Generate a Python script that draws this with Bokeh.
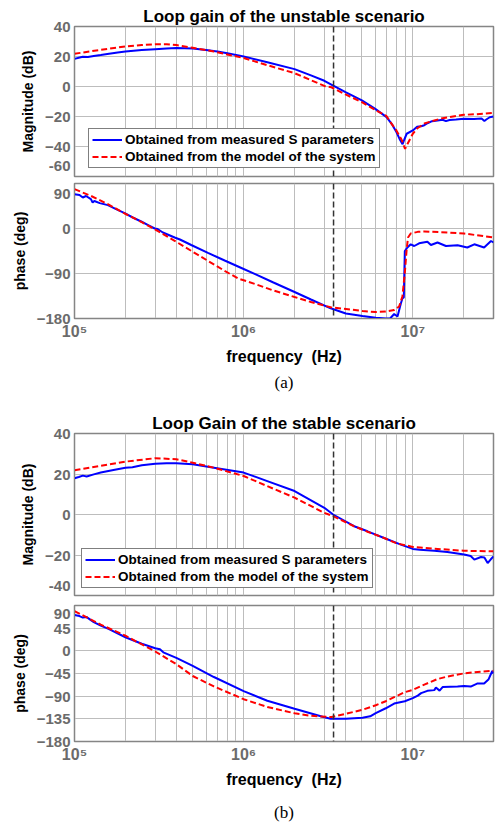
from bokeh.plotting import figure
from bokeh.models import (FixedTicker, Span, Legend, LegendItem, Title, Range1d,
                          CustomJSTickFormatter)
from bokeh.layouts import column
from bokeh.embed import file_html
from bokeh.resources import INLINE

# ---------------- data ----------------
crossover_freq = 3.4e6

# (a) unstable scenario - magnitude
f_a_mag_meas = [1.0e5, 1.06e5, 1.12e5, 1.2e5, 1.3e5, 1.43e5, 1.6e5, 1.8e5, 2.0e5, 2.5e5, 3.0e5,
                3.5e5, 4.0e5, 5.0e5, 6.0e5, 7.0e5, 8.0e5, 1.0e6, 1.38e6, 2.0e6, 2.5e6, 3.0e6,
                3.3e6, 4.0e6, 5.0e6, 6.0e6, 7.0e6, 7.5e6, 8.0e6, 8.4e6, 8.7e6, 8.9e6, 9.2e6,
                1.0e7, 1.06e7, 1.12e7, 1.17e7, 1.22e7, 1.3e7, 1.4e7, 1.5e7, 1.57e7, 1.65e7,
                1.8e7, 2.0e7, 2.3e7, 2.55e7, 2.65e7, 2.72e7, 2.85e7, 3.0e7]
mag_a_meas = [18.4, 19.2, 19.8, 19.6, 20.3, 21.0, 21.9, 22.7, 23.3, 24.3, 24.9,
              25.3, 25.6, 25.3, 24.3, 23.3, 22.2, 20.0, 16.2, 11.6, 7.4, 3.8,
              1.3, -3.8, -9.3, -14.9, -20.4, -24.9, -30.4, -35.5, -38.5, -35.5, -31.5,
              -29.3, -26.9, -26.5, -25.8, -24.5, -23.1, -22.6, -22.2, -23.1, -22.3,
              -22.0, -21.5, -21.7, -21.4, -23.0, -22.0, -20.5, -20.0]
f_a_mag_model = [1.0e5, 1.43e5, 2.0e5, 2.5e5, 3.0e5, 3.5e5, 4.0e5, 5.0e5, 6.67e5, 1.0e6, 1.38e6,
                 2.0e6, 3.0e6, 3.3e6, 4.0e6, 5.0e6, 6.0e6, 7.0e6, 7.5e6, 8.0e6, 8.6e6, 9.0e6,
                 9.2e6, 1.0e7, 1.06e7, 1.17e7, 1.3e7, 1.5e7, 2.0e7, 2.6e7, 3.0e7]
mag_a_model = [21.8, 24.5, 26.7, 27.7, 28.2, 28.2, 27.6, 25.8, 23.3, 19.0, 14.2,
               8.9, 0.4, -0.5, -5.3, -10.4, -15.6, -19.8, -24.9, -29.3, -35.6, -41.6,
               -39.4, -31.5, -28.0, -24.7, -23.1, -21.1, -18.9, -18.2, -17.6]

# (a) unstable scenario - phase
f_a_ph_meas = [1.0e5, 1.07e5, 1.12e5, 1.17e5, 1.25e5, 1.28e5, 1.31e5, 1.41e5, 1.575e5, 1.76e5,
               1.98e5, 2.21e5, 2.48e5, 2.78e5, 2.98e5, 3.1e5, 3.33e5, 3.91e5, 4.2e5, 4.9e5,
               6.15e5, 7.72e5, 9.7e5, 1.17e6, 1.5e6, 2.0e6, 2.5e6, 3.27e6, 4.02e6, 5.04e6,
               6.04e6, 6.92e6, 7.34e6, 7.76e6, 8.12e6, 8.5e6, 8.68e6, 8.85e6, 8.97e6, 9.29e6,
               9.72e6, 1.02e7, 1.09e7, 1.22e7, 1.28e7, 1.4e7, 1.57e7, 1.84e7, 2.1e7, 2.31e7,
               2.64e7, 2.9e7, 3.0e7]
ph_a_meas = [68.7, 67.0, 62.0, 65.0, 58.7, 52.0, 55.0, 50.7, 46.7, 38.7,
             30.7, 22.0, 14.0, 5.3, 0.0, -1.0, -8.0, -18.0, -22.0, -33.0,
             -48.7, -64.0, -79.0, -91.3, -108.0, -127.0, -142.0, -159.6, -170.0, -175.0,
             -178.5, -180.0, -180.0, -171.0, -176.0, -150.0, -140.0, -138.0, -45.0, -38.0,
             -31.6, -35.0, -29.6, -26.3, -33.0, -28.0, -35.0, -33.7, -38.0, -31.6,
             -38.0, -25.0, -28.0]
f_a_ph_model = [1.0e5, 1.25e5, 1.575e5, 1.98e5, 2.48e5, 2.98e5, 3.91e5, 4.9e5, 6.15e5, 7.72e5,
                9.27e5, 1.17e6, 1.5e6, 2.0e6, 2.5e6, 3.27e6, 4.02e6, 5.04e6, 6.04e6, 6.92e6,
                7.76e6, 8.3e6, 8.68e6, 8.97e6, 9.21e6, 9.37e6, 9.72e6, 1.07e7, 1.17e7, 1.6e7,
                2.01e7, 3.0e7]
ph_a_model = [78.7, 65.3, 48.7, 30.0, 13.3, -1.3, -24.7, -44.7, -64.7, -84.7,
              -100.0, -111.0, -124.0, -137.0, -147.0, -157.6, -161.0, -165.0, -167.0, -166.0,
              -163.0, -156.0, -136.0, -89.0, -40.0, -18.0, -10.0, -6.7, -6.0, -8.0,
              -10.0, -18.0]

# (b) stable scenario - magnitude
f_b_mag_meas = [1.0e5, 1.06e5, 1.12e5, 1.18e5, 1.3e5, 1.43e5, 1.7e5, 2.0e5, 2.2e5, 2.5e5, 3.0e5,
                3.5e5, 4.0e5, 5.0e5, 6.67e5, 1.0e6, 1.38e6, 2.0e6, 3.0e6, 3.38e6, 4.5e6, 5.4e6,
                6.77e6, 8.5e6, 1.0e7, 1.1e7, 1.34e7, 1.6e7, 2.01e7, 2.2e7, 2.31e7, 2.53e7,
                2.65e7, 2.77e7, 2.9e7, 3.0e7]
mag_b_meas = [17.9, 18.5, 19.2, 18.8, 19.8, 20.7, 22.0, 23.1, 23.3, 24.3, 25.1,
              25.3, 25.3, 24.8, 23.1, 20.7, 16.5, 11.6, 3.3, 0.0, -5.8, -8.3,
              -11.6, -14.9, -17.0, -17.4, -17.9, -18.5, -19.8, -20.5, -22.3, -21.0,
              -21.2, -24.0, -22.0, -20.7]
f_b_mag_model = [1.0e5, 1.43e5, 2.0e5, 3.0e5, 4.0e5, 5.0e5, 6.67e5, 1.0e6, 1.38e6, 2.0e6, 3.0e6,
                 3.38e6, 4.5e6, 5.4e6, 6.77e6, 8.0e6, 1.0e7, 1.34e7, 2.0e7, 3.0e7]
mag_b_model = [21.8, 24.0, 26.1, 27.8, 27.3, 25.6, 23.1, 19.0, 14.0, 8.3, 0.8,
               -0.8, -5.8, -8.5, -11.6, -14.2, -16.0, -16.9, -17.9, -18.2]

# (b) stable scenario - phase
f_b_ph_meas = [1.0e5, 1.07e5, 1.12e5, 1.18e5, 1.25e5, 1.3e5, 1.43e5, 1.6e5, 2.0e5, 2.5e5, 3.0e5,
               3.2e5, 3.35e5, 4.0e5, 5.0e5, 6.67e5, 1.0e6, 1.38e6, 2.0e6, 3.0e6, 3.27e6, 4.02e6,
               5.04e6, 5.6e6, 6.04e6, 6.92e6, 7.76e6, 8.97e6, 1.0e7, 1.07e7, 1.12e7, 1.22e7,
               1.34e7, 1.37e7, 1.44e7, 1.5e7, 1.84e7, 2.01e7, 2.2e7, 2.4e7, 2.64e7, 2.8e7,
               2.95e7, 3.0e7]
ph_b_meas = [71.0, 69.0, 66.0, 67.0, 61.0, 57.0, 50.0, 43.0, 27.0, 14.0, 5.0,
             3.0, -3.0, -14.0, -30.0, -52.0, -80.0, -99.0, -115.0, -132.0, -134.8, -134.8,
             -133.0, -130.0, -123.5, -114.0, -104.6, -100.0, -94.0, -89.0, -84.0, -79.4,
             -78.0, -73.0, -79.0, -72.0, -71.0, -70.0, -71.0, -65.0, -65.0, -57.0,
             -40.0, -45.0]
f_b_ph_model = [1.0e5, 1.43e5, 2.0e5, 3.0e5, 4.0e5, 5.0e5, 6.67e5, 1.0e6, 1.38e6, 2.0e6, 2.5e6,
                3.3e6, 4.02e6, 5.04e6, 6.04e6, 6.92e6, 7.76e6, 8.97e6, 1.0e7, 1.17e7, 1.4e7,
                1.6e7, 2.01e7, 2.6e7, 3.0e7]
ph_b_model = [79.0, 52.0, 30.0, -1.3, -26.5, -50.0, -70.6, -96.0, -111.5, -124.0, -129.0,
              -131.5, -125.0, -117.0, -108.0, -100.0, -92.0, -82.0, -77.5, -67.0, -56.0,
              -51.0, -44.7, -41.0, -39.7]

x_major = [1e5, 1e6, 1e7]
x_minor = [2e5, 3e5, 4e5, 5e5, 6e5, 7e5, 8e5, 9e5, 2e6, 3e6, 4e6, 5e6, 6e6, 7e6, 8e6, 9e6,
           2e7, 3e7]
mag_a_ticks = [-60, -40, -20, 0, 20, 40]
ph_a_ticks = [-180, -90, 0, 90]
mag_b_ticks = [-40, -20, 0, 20, 40]
ph_b_ticks = [-180, -135, -90, -45, 0, 45, 90]

legend_labels = ["Obtained from measured S parameters", "Obtained from the model of the system"]
x_label = "frequency\u00a0\u00a0(Hz)"

# ---------------- styling helpers ----------------
FONT = "Liberation Sans"
GRID = "#bdbdbd"
FRAME = "#858585"
TICKC = "#6b6b6b"
BLUE = "#0000ff"
RED = "#ff0000"
TICK_FS = "15px"


def make_fig(height, top, bottom, yticks, yr, ylabel, title=None, show_x=False,
             edge_low=False, edge_high=False):
    p = figure(width=498, height=height, x_axis_type="log",
               x_range=Range1d(1e5, 3e7), y_range=Range1d(*yr),
               output_backend="svg", toolbar_location=None,
               min_border_left=74, min_border_right=5,
               min_border_top=top, min_border_bottom=bottom)
    p.background_fill_color = "white"
    p.border_fill_color = "white"
    p.outline_line_color = FRAME
    p.outline_line_width = 1.5

    xt = FixedTicker(ticks=x_major, minor_ticks=x_minor)
    p.xaxis.ticker = xt
    p.xgrid.ticker = xt
    p.xgrid.grid_line_color = GRID
    p.xgrid.minor_grid_line_color = GRID
    p.xgrid.grid_line_width = 1
    p.xgrid.minor_grid_line_width = 1

    yt = FixedTicker(ticks=list(yticks))
    p.yaxis.ticker = yt
    p.ygrid.ticker = yt
    p.ygrid.grid_line_color = GRID

    # tick labels at the very edge of a panel are nudged into the panel
    # (two-line label with an empty, tightly spaced line) so that they are not cut
    overrides = {}
    if edge_low:
        overrides[yticks[0]] = str(yticks[0]) + "\n "
    if edge_high:
        overrides[yticks[-1]] = " \n" + str(yticks[-1])
    if overrides:
        p.yaxis.major_label_overrides = overrides

    for ax in (p.xaxis[0], p.yaxis[0]):
        ax.axis_line_color = FRAME
        ax.major_tick_line_color = None
        ax.minor_tick_line_color = None
        ax.major_tick_out = 0
        ax.major_tick_in = 0
        ax.minor_tick_out = 0
        ax.minor_tick_in = 0
        ax.major_label_text_font = FONT
        ax.major_label_text_font_style = "bold"
        ax.major_label_text_color = TICKC
        ax.axis_label_text_font = FONT
        ax.axis_label_text_font_style = "bold"
        ax.axis_label_text_color = "black"
        ax.axis_label_text_font_size = "14px"

    p.yaxis.major_label_text_font_size = TICK_FS
    p.yaxis.major_label_text_line_height = 0.35
    p.yaxis.major_label_standoff = 4
    p.yaxis.axis_label = ylabel
    p.yaxis.axis_label_standoff = 6

    if show_x:
        p.xaxis.formatter = CustomJSTickFormatter(code="""
            const e = Math.round(Math.log10(tick));
            const sup = {'5': '\u2075', '6': '\u2076', '7': '\u2077'};
            return '10' + (sup[String(e)] || String(e));
        """)
        p.xaxis.major_label_text_font_size = "16px"
        p.xaxis.major_label_standoff = 4
        p.xaxis.axis_label = x_label
        p.xaxis.axis_label_text_font_size = "16px"
        p.xaxis.axis_label_standoff = 5
    else:
        p.xaxis.visible = False

    if title:
        p.title.text = title
        p.title.align = "center"
        p.title.text_font = FONT
        p.title.text_font_style = "bold"
        p.title.text_font_size = "17px"
        p.title.text_color = "black"
        p.title.standoff = 1

    p.add_layout(Span(location=crossover_freq, dimension="height", line_color="#333333",
                      line_width=1.5, line_dash="6 3"))
    return p


def add_curves(p, f_meas, y_meas, f_model, y_model, legend_loc=None):
    r1 = p.line(f_meas, y_meas, line_color=BLUE, line_width=2)
    r2 = p.line(f_model, y_model, line_color=RED, line_width=2, line_dash="6 3")
    if legend_loc is not None:
        leg = Legend(items=[LegendItem(label=legend_labels[0], renderers=[r1]),
                            LegendItem(label=legend_labels[1], renderers=[r2])],
                     location=legend_loc)
        leg.label_text_font = FONT
        leg.label_text_font_style = "bold"
        leg.label_text_font_size = "13.5px"
        leg.label_text_color = "black"
        leg.border_line_color = "black"
        leg.border_line_width = 1
        leg.background_fill_color = "white"
        leg.background_fill_alpha = 1
        leg.glyph_width = 30
        leg.glyph_height = 15
        leg.label_height = 15
        leg.label_standoff = 3
        leg.padding = 3
        leg.spacing = 2
        leg.margin = 0
        p.add_layout(leg)


def add_caption(p, text, standoff):
    p.add_layout(Title(text=text, align="center", text_font="Liberation Serif",
                       text_font_style="normal", text_font_size="17px",
                       text_color="black", offset=-26, standoff=standoff), "below")


# (a) magnitude
pa1 = make_fig(179, 26, 3, mag_a_ticks, (-60, 40), "Magnitude (dB)",
               title="Loop gain of the unstable scenario", edge_low=True)
add_curves(pa1, f_a_mag_meas, mag_a_meas, f_a_mag_model, mag_a_model, legend_loc=(14, 8))

# (a) phase
pa2 = make_fig(219, 4, 80, ph_a_ticks, (-180, 90), "phase (deg)", show_x=True, edge_high=True)
add_curves(pa2, f_a_ph_meas, ph_a_meas, f_a_ph_model, ph_a_model)
add_caption(pa2, "(a)", 6)

# (b) magnitude
pb1 = make_fig(201, 35, 4, mag_b_ticks, (-40, 40), "Magnitude (dB)",
               title="Loop Gain of the stable scenario", edge_low=True)
add_curves(pb1, f_b_mag_meas, mag_b_meas, f_b_mag_model, mag_b_model, legend_loc=(7, 7))

# (b) phase
pb2 = make_fig(232, 6, 83, ph_b_ticks, (-180, 90), "phase (deg)", show_x=True, edge_high=True)
add_curves(pb2, f_b_ph_meas, ph_b_meas, f_b_ph_model, ph_b_model)
add_caption(pb2, "(b)", 20)

layout = column(pa1, pa2, pb1, pb2, spacing=0)

open("out.html", "w").write(file_html(layout, INLINE))
